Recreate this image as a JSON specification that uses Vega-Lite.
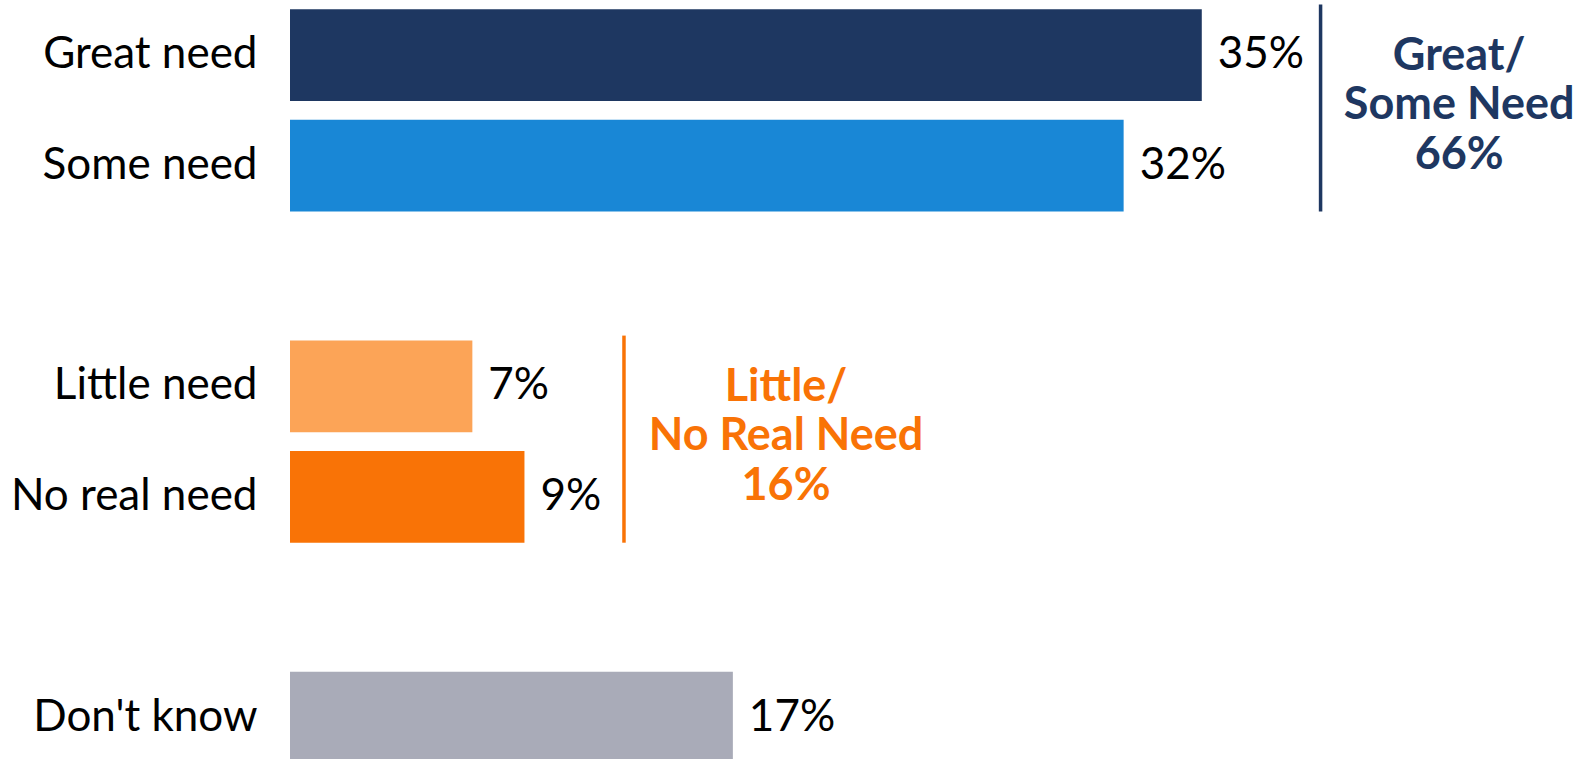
{
  "$schema": "https://vega.github.io/schema/vega-lite/v6.json",
  "width": 1276.5,
  "height": 772.8,
  "autosize": {"type": "none"},
  "padding": {"left": 290, "top": 0, "right": 21.5, "bottom": 0},
  "background": "white",
  "config": {"view": {"stroke": null}},
  "datasets": {
    "bars": [
      {"cat": "Great need", "pct": 35, "label": "35%"},
      {"cat": "Some need", "pct": 32, "label": "32%"},
      {"cat": "Little need", "pct": 7, "label": "7%"},
      {"cat": "No real need", "pct": 9, "label": "9%"},
      {"cat": "Don't know", "pct": 17, "label": "17%"}
    ],
    "groups": [
      {"group": "Great/Some Need", "from": "Great need", "to": "Some need", "bracket": 39.56, "center": 44.88, "text": "Great/\nSome Need\n66%"},
      {"group": "Little/No Real Need", "from": "Little need", "to": "No real need", "bracket": 12.82, "center": 19.04, "text": "Little/\nNo Real Need\n16%"}
    ]
  },
  "encoding": {
    "y": {
      "field": "cat",
      "type": "nominal",
      "scale": {
        "domain": ["Great need", "Some need", "gap1", "Little need", "No real need", "gap2", "Don't know"],
        "paddingInner": 0.169,
        "paddingOuter": 0.0845
      },
      "axis": {
        "title": null,
        "domain": false,
        "ticks": false,
        "tickSize": 0,
        "grid": false,
        "labelFont": "Lato",
        "labelFontSize": 44,
        "labelColor": "#000000",
        "labelPadding": 33,
        "labelLimit": 400,
        "labelExpr": "indexof(datum.value, 'gap') == 0 ? '' : datum.value"
      }
    }
  },
  "layer": [
    {
      "data": {"name": "bars"},
      "mark": {"type": "bar"},
      "encoding": {
        "x": {"field": "pct", "type": "quantitative", "scale": {"domain": [0, 49], "nice": false}, "axis": null},
        "color": {
          "field": "cat",
          "type": "nominal",
          "scale": {
            "domain": ["Great need", "Some need", "Little need", "No real need", "Don't know"],
            "range": ["#1E3761", "#1987D6", "#FCA457", "#F97306", "#A9ABB8"]
          },
          "legend": null
        }
      }
    },
    {
      "data": {"name": "bars"},
      "mark": {"type": "text", "align": "left", "baseline": "middle", "dx": 16, "font": "Lato", "fontSize": 44, "color": "#000000"},
      "encoding": {
        "x": {"field": "pct", "type": "quantitative"},
        "text": {"field": "label"}
      }
    },
    {
      "data": {"name": "groups"},
      "mark": {"type": "rule", "strokeWidth": 3.5, "yOffset": -50.8, "y2Offset": 45.9},
      "encoding": {
        "x": {"field": "bracket", "type": "quantitative"},
        "y": {"field": "from", "type": "nominal"},
        "y2": {"field": "to"},
        "color": {
          "field": "group",
          "type": "nominal",
          "scale": {"domain": ["Great/Some Need", "Little/No Real Need"], "range": ["#1E3761", "#F97306"]},
          "legend": null
        }
      }
    },
    {
      "data": {"name": "groups"},
      "mark": {"type": "text", "align": "center", "baseline": "alphabetic", "dy": 14.4, "lineBreak": "\n", "lineHeight": 49.7, "font": "Lato", "fontWeight": "bold", "fontSize": 45},
      "encoding": {
        "x": {"field": "center", "type": "quantitative"},
        "y": {"field": "from", "type": "nominal"},
        "text": {"field": "text"},
        "color": {
          "field": "group",
          "type": "nominal",
          "scale": {"domain": ["Great/Some Need", "Little/No Real Need"], "range": ["#1E3761", "#F97306"]},
          "legend": null
        }
      }
    }
  ],
  "resolve": {"scale": {"color": "independent"}}
}
